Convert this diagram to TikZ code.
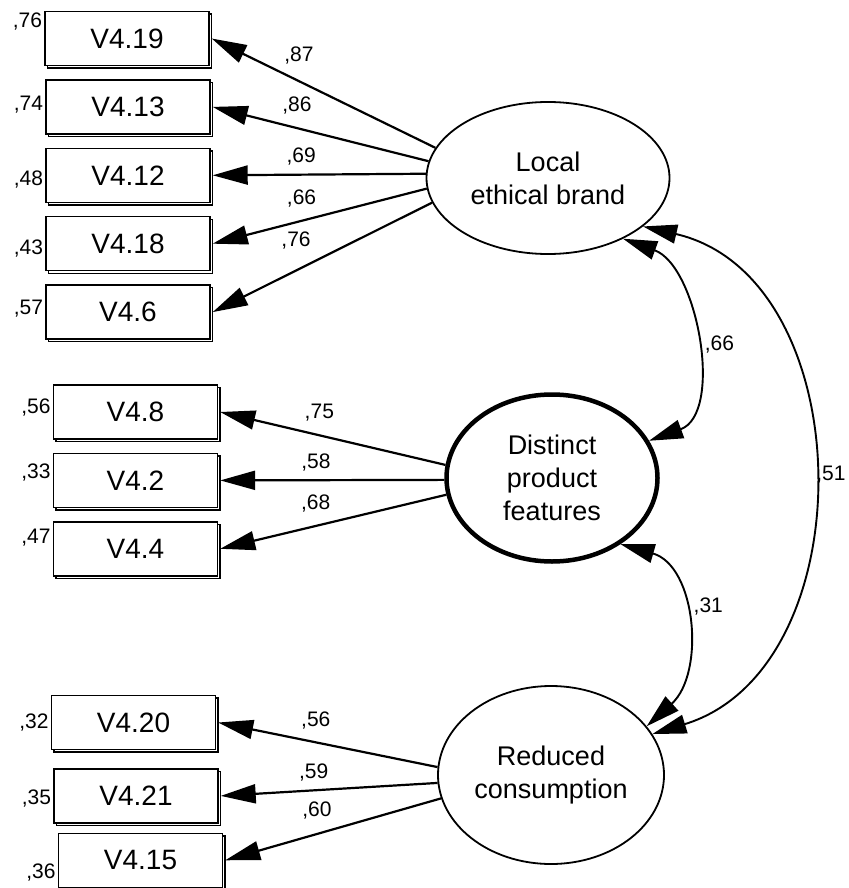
\documentclass[tikz,border=0pt]{standalone}
\usepackage{fontspec}
\setmainfont{Liberation Sans}
\usetikzlibrary{arrows.meta, positioning, shapes.geometric, shadows}

\begin{document}
\begin{tikzpicture}[
    x=1pt, y=1pt,
    node distance=13pt,
    obs/.style={rectangle, draw=black, line width=1.4pt, fill=white,
                minimum width=164pt, minimum height=54pt, inner sep=0pt,
                font=\fontsize{28}{34}\selectfont,
                copy shadow={shadow xshift=2.5pt, shadow yshift=-2.5pt}},
    latent/.style={ellipse, draw=black, line width=1.8pt, fill=white,
                   align=center, inner sep=0pt,
                   font=\fontsize{27}{33}\selectfont},
    load/.style={-{Triangle[length=35pt, width=19pt]}, line width=2.2pt},
    cov/.style={{Triangle[length=34pt, width=19pt]}-{Triangle[length=34pt, width=19pt]},
                line width=1.9pt},
    coef/.style={font=\fontsize{21}{24}\selectfont, inner sep=1pt}
]
  \useasboundingbox (0,0) rectangle (848,-888);

  % latent factors
  \node[latent, minimum width=243pt, minimum height=152pt] (LE) at (548,-178) {Local\\ethical brand};
  \node[latent, line width=4.5pt, minimum width=211pt, minimum height=167pt] (DPF) at (552,-478) {Distinct\\product\\features};
  \node[latent, minimum width=226pt, minimum height=178pt] (RC) at (551,-775) {Reduced\\consumption};

  % indicators of Local ethical brand
  \node[obs] (b19) at (127,-38.5) {V4.19};
  \node[obs, below=of b19, xshift=1pt] (b13) {V4.13};
  \node[obs, below=of b13] (b12) {V4.12};
  \node[obs, below=of b12] (b18) {V4.18};
  \node[obs, below=of b18] (b6)  {V4.6};

  % indicators of Distinct product features
  \node[obs] (b8) at (135.5,-412) {V4.8};
  \node[obs, below=of b8] (b2) {V4.2};
  \node[obs, below=of b2] (b4) {V4.4};

  % indicators of Reduced consumption
  \node[obs] (b20) at (133.5,-722.5) {V4.20};
  \node[obs, below=18pt of b20, xshift=2.5pt] (b21) {V4.21};
  \node[obs, below=9pt of b21, xshift=4.5pt] (b15) {V4.15};

  % squared multiple correlations
  \node[coef, left=1pt of b19, yshift=16.5pt] (r19) {,76};
  \node[coef, left=1pt of b13, yshift=2pt]    (r13) {,74};
  \node[coef, left=1pt of b12, yshift=-4pt]   (r12) {,48};
  \node[coef, left=1pt of b18, yshift=-4.5pt] (r18) {,43};
  \node[coef, left=1pt of b6,  yshift=3.5pt]  (r6)  {,57};
  \node[coef, left=1pt of b8,  yshift=4pt]    (r8)  {,56};
  \node[coef, left=1pt of b2,  yshift=7.5pt]  (r2)  {,33};
  \node[coef, left=1pt of b4,  yshift=11.5pt] (r4)  {,47};
  \node[coef, left=1pt of b20, yshift=-0.5pt] (r20) {,32};
  \node[coef, left=1pt of b21, yshift=-2.5pt] (r21) {,35};
  \node[coef, left=1pt of b15, yshift=-12pt]  (r15) {,36};

  % loadings
  \draw[load] (LE.165)   -- node[coef, pos=0.61,  yshift=26pt] {,87} ([xshift=2pt]b19.east);
  \draw[load] (LE.172)   -- node[coef, pos=0.61,  yshift=23pt] {,86} ([xshift=2pt]b13.east);
  \draw[load] (LE.178.5) -- node[coef, pos=0.585, yshift=18pt] {,69} ([xshift=2pt]b12.east);
  \draw[load] (LE.185)   -- node[coef, pos=0.585, yshift=22pt] {,66} ([xshift=2pt]b18.east);
  \draw[load] (LE.192)   -- node[coef, pos=0.62,  yshift=30pt] {,76} ([xshift=2pt]b6.east);

  \draw[load] (DPF.173.5) -- node[coef, pos=0.56,  yshift=23pt] {,75} ([xshift=2pt]b8.east);
  \draw[load] (DPF.181)   -- node[coef, pos=0.573, yshift=18pt] {,58} ([xshift=2pt]b2.east);
  \draw[load] (DPF.189.2) -- node[coef, pos=0.578, yshift=22pt] {,68} ([xshift=2pt]b4.east);

  \draw[load] (RC.176)   -- node[coef, pos=0.555, yshift=22pt] {,56} ([xshift=2pt]b20.east);
  \draw[load] (RC.184.5) -- node[coef, pos=0.571, yshift=18pt] {,59} ([xshift=2pt]b21.east);
  \draw[load] (RC.192.8) -- node[coef, pos=0.575, yshift=23pt] {,60} ([xshift=2pt]b15.east);

  % correlations between factors
  \draw[cov] (LE.-39.5) to[out=-20, in=20, looseness=1.0]
      node[coef, pos=0.52, right=10pt] {,66} (DPF.21);
  \draw[cov] (DPF.-44) to[out=-16, in=42, looseness=1.1]
      node[coef, pos=0.42, right=11pt] {,31} (RC.27);
  \draw[cov] (LE.-27.5) to[out=-13, in=17, looseness=1.13]
      node[coef, pos=0.5, right=4pt] {,51} (RC.22);
\end{tikzpicture}
\end{document}
